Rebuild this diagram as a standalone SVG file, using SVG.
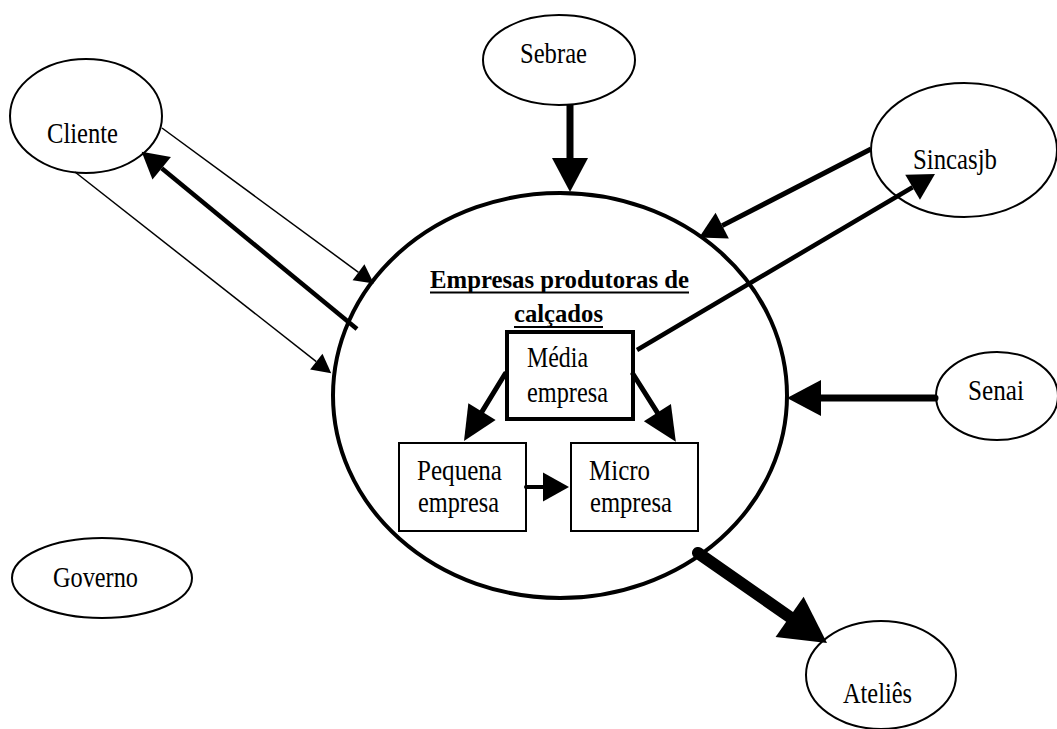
<svg xmlns="http://www.w3.org/2000/svg" width="1057" height="729" viewBox="0 0 1057 729">
<style>
.node{fill:#fff;stroke:#000;stroke-width:2}
.lbl{font-family:"Liberation Serif","Times New Roman",serif;font-size:29px;fill:#000}
.ttl{font-family:"Liberation Serif","Times New Roman",serif;font-size:26px;font-weight:bold;fill:#000}
.c{stroke:#000;fill:none}
.h{fill:#000;stroke:none}
</style>
<defs>
<marker id="mThin" markerUnits="userSpaceOnUse" markerWidth="20" markerHeight="20" refX="0" refY="10" orient="auto" overflow="visible"><path class="h" d="M0,0 L19,10 L0,20 Z"/></marker>
<marker id="mMed" markerUnits="userSpaceOnUse" markerWidth="27" markerHeight="29" refX="0" refY="14.5" orient="auto" overflow="visible"><path class="h" d="M0,0 L26,14.5 L0,29 Z"/></marker>
<marker id="mBox" markerUnits="userSpaceOnUse" markerWidth="35" markerHeight="32" refX="0" refY="16" orient="auto" overflow="visible"><path class="h" d="M0,0 L34.5,16 L0,32 Z"/></marker>
<marker id="mBig" markerUnits="userSpaceOnUse" markerWidth="36" markerHeight="36" refX="0" refY="18" orient="auto" overflow="visible"><path class="h" d="M0,0 L34,18 L0,36 Z"/></marker>
<marker id="mHuge" markerUnits="userSpaceOnUse" markerWidth="46" markerHeight="49" refX="0" refY="24.5" orient="auto" overflow="visible"><path class="h" d="M0,0 L45.6,24.5 L0,49 Z"/></marker>
</defs>
<rect width="1057" height="729" fill="#fff"/>

<g id="empresas">
<ellipse cx="560" cy="395.5" rx="227" ry="202.5" fill="none" stroke="#000" stroke-width="4"/>
<text class="ttl" x="430" y="288" textLength="259" lengthAdjust="spacingAndGlyphs">Empresas produtoras de</text>
<line x1="430" y1="292.5" x2="689" y2="292.5" stroke="#000" stroke-width="2"/>
<text class="ttl" x="514" y="322" textLength="89" lengthAdjust="spacingAndGlyphs">calçados</text>
<line x1="514" y1="327" x2="603" y2="327" stroke="#000" stroke-width="2"/>
</g>

<g id="cliente">
<ellipse class="node" cx="86" cy="116" rx="76" ry="57"/>
<text class="lbl" x="47" y="143" textLength="71" lengthAdjust="spacingAndGlyphs">Cliente</text>
</g>
<g id="sebrae">
<ellipse class="node" cx="559" cy="60" rx="76" ry="45"/>
<text class="lbl" x="520" y="63" textLength="67" lengthAdjust="spacingAndGlyphs">Sebrae</text>
</g>
<g id="sincasjb">
<ellipse class="node" cx="964" cy="150" rx="93" ry="67"/>
<text class="lbl" x="913" y="169" textLength="84" lengthAdjust="spacingAndGlyphs">Sincasjb</text>
</g>
<g id="senai">
<ellipse class="node" cx="997" cy="396" rx="61" ry="44"/>
<text class="lbl" x="968" y="400" textLength="56" lengthAdjust="spacingAndGlyphs">Senai</text>
</g>
<g id="governo">
<ellipse class="node" cx="102" cy="578" rx="90" ry="40" stroke-width="2.5"/>
<text class="lbl" x="53" y="587" textLength="85" lengthAdjust="spacingAndGlyphs">Governo</text>
</g>
<g id="ateliers">
<ellipse class="node" cx="881" cy="675" rx="75" ry="54"/>
<text class="lbl" x="843" y="703" textLength="69" lengthAdjust="spacingAndGlyphs">Ateliês</text>
</g>

<g id="media">
<rect x="507" y="332" width="126" height="87" fill="#fff" stroke="#000" stroke-width="4"/>
<text class="lbl" x="527" y="367" textLength="61" lengthAdjust="spacingAndGlyphs">Média</text>
<text class="lbl" x="527" y="402" textLength="81" lengthAdjust="spacingAndGlyphs">empresa</text>
</g>
<g id="pequena">
<rect x="399" y="443" width="127" height="88" fill="#fff" stroke="#000" stroke-width="2"/>
<text class="lbl" x="417" y="480" textLength="85" lengthAdjust="spacingAndGlyphs">Pequena</text>
<text class="lbl" x="418" y="512" textLength="81" lengthAdjust="spacingAndGlyphs">empresa</text>
</g>
<g id="micro">
<rect x="571" y="443" width="127" height="88" fill="#fff" stroke="#000" stroke-width="2"/>
<text class="lbl" x="589" y="480" textLength="61" lengthAdjust="spacingAndGlyphs">Micro</text>
<text class="lbl" x="590" y="512" textLength="82" lengthAdjust="spacingAndGlyphs">empresa</text>
</g>

<g id="connectors">
<line class="c" x1="162" y1="128" x2="358.5" y2="272.3" stroke-width="1.5" marker-end="url(#mThin)"/>
<line class="c" x1="75" y1="172" x2="316.3" y2="361.6" stroke-width="1.5" marker-end="url(#mThin)"/>
<line class="c" x1="357" y1="329" x2="161.7" y2="168.2" stroke-width="4.5" marker-end="url(#mMed)"/>
<line class="c" x1="570" y1="105" x2="570" y2="158" stroke-width="7" marker-end="url(#mBig)"/>
<line class="c" x1="871" y1="149" x2="722.2" y2="225.6" stroke-width="5" marker-end="url(#mMed)"/>
<line class="c" x1="637" y1="350" x2="912.6" y2="187.2" stroke-width="4.5" marker-end="url(#mMed)"/>
<line class="c" x1="935" y1="398" x2="821" y2="398" stroke-width="7" stroke-linecap="round" marker-end="url(#mBig)"/>
<line class="c" x1="698" y1="553" x2="789.6" y2="616.9" stroke-width="12" stroke-linecap="round" marker-end="url(#mHuge)"/>
<line class="c" x1="505" y1="374" x2="482" y2="411.6" stroke-width="5" stroke-linecap="round" marker-end="url(#mBox)"/>
<line class="c" x1="633" y1="374" x2="657.4" y2="412.6" stroke-width="5" stroke-linecap="round" marker-end="url(#mBox)"/>
<line class="c" x1="526" y1="487" x2="543" y2="487" stroke-width="4" stroke-linecap="round" marker-end="url(#mMed)"/>
</g>
</svg>
